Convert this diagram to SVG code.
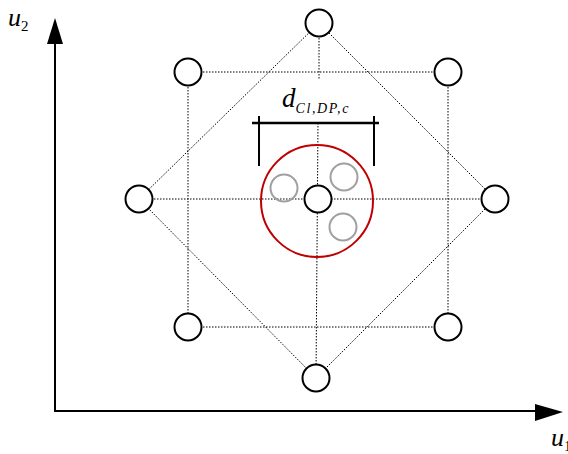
<svg xmlns="http://www.w3.org/2000/svg" width="568" height="454" viewBox="0 0 568 454">
<style>
.dot{stroke:#000;stroke-width:1;stroke-dasharray:1.5,1.5;fill:none}
.n{fill:#fff;stroke:#000;stroke-width:2}
.g{fill:none;stroke:#a0a0a0;stroke-width:2}
.t{font-family:"Liberation Serif",serif;font-style:italic;fill:#000}
</style>
<rect width="568" height="454" fill="#fff"/>
<g id="connectors">
<line class="dot" x1="188" y1="72" x2="448" y2="72"/>
<line class="dot" x1="188" y1="327" x2="448" y2="327"/>
<line class="dot" x1="139" y1="199" x2="495" y2="199"/>
<line class="dot" x1="188" y1="72" x2="188" y2="327"/>
<line class="dot" x1="448" y1="72" x2="448" y2="327"/>
<line class="dot" x1="319" y1="23" x2="319" y2="80"/>
<line class="dot" x1="318" y1="123" x2="316" y2="378"/>
<polyline class="dot" points="319,23 139,199 316,378 495,199 319,23"/>
</g>
<g id="axes">
<line x1="55" y1="411" x2="55" y2="40" stroke="#000" stroke-width="2"/>
<path d="M55,18 L47,44 L63,44 z" fill="#000"/>
<line x1="54" y1="411" x2="536" y2="411" stroke="#000" stroke-width="2"/>
<path d="M563,412 L535,404 L535,421 z" fill="#000"/>
<text class="t" x="8" y="26" font-size="26">u<tspan font-size="15" dy="5" font-style="normal">2</tspan></text>
<text class="t" x="551" y="446" font-size="26">u<tspan font-size="15" dy="5" font-style="normal">1</tspan></text>
</g>
<g id="radius">
<circle cx="317" cy="201" r="56" fill="none" stroke="#c00000" stroke-width="2"/>
</g>
<g id="bracket">
<line x1="252" y1="123" x2="379" y2="123" stroke="#000" stroke-width="2.5"/>
<line x1="259" y1="116" x2="259" y2="166" stroke="#000" stroke-width="2"/>
<line x1="374" y1="116" x2="374" y2="166" stroke="#000" stroke-width="2"/>
<text class="t" x="282" y="107" font-size="27">d<tspan font-size="14" dy="6" letter-spacing="1.6">Cl,DP,c</tspan></text>
</g>
<g id="node-top"><circle class="n" cx="319" cy="23" r="13.5"/></g>
<g id="node-topleft"><circle class="n" cx="188" cy="72" r="13.5"/></g>
<g id="node-topright"><circle class="n" cx="448" cy="72" r="13.5"/></g>
<g id="node-left"><circle class="n" cx="139" cy="199" r="13.5"/></g>
<g id="node-right"><circle class="n" cx="495" cy="199" r="13.5"/></g>
<g id="node-center"><circle class="n" cx="318" cy="199" r="13.5"/></g>
<g id="node-bottomleft"><circle class="n" cx="188" cy="327" r="13.5"/></g>
<g id="node-bottomright"><circle class="n" cx="448" cy="327" r="13.5"/></g>
<g id="node-bottom"><circle class="n" cx="316" cy="378" r="13.5"/></g>
<g id="gray-1"><circle class="g" cx="284" cy="188" r="13.5"/></g>
<g id="gray-2"><circle class="g" cx="344" cy="177" r="13.5"/></g>
<g id="gray-3"><circle class="g" cx="343" cy="227" r="13.5"/></g>
</svg>
